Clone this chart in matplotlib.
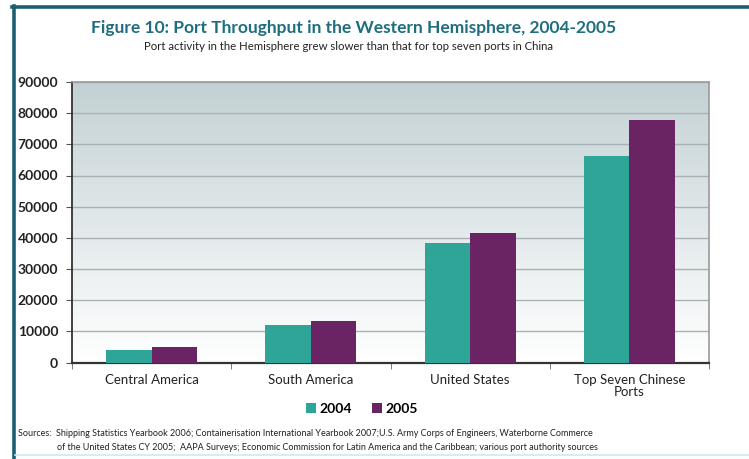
import numpy as np
import matplotlib
matplotlib.use("Agg")
import matplotlib.pyplot as plt
from matplotlib.lines import Line2D
from matplotlib.colors import LinearSegmentedColormap

categories = ["Central America", "South America", "United States", "Top Seven Chinese\nPorts"]
years = ["2004", "2005"]
values_2004 = [3900, 11900, 38400, 66100]
values_2005 = [4900, 13200, 41700, 77700]
yticks = [0, 10000, 20000, 30000, 40000, 50000, 60000, 70000, 80000, 90000]

teal = "#2ea597"
purple = "#6a2463"
frame_blue = "#1d5f70"

font = ["Lato", "DejaVu Sans"]
plt.rcParams["font.family"] = font

fig = plt.figure(figsize=(7.49, 4.59), dpi=100)
fig.patch.set_facecolor("white")

# page frame: thick rule across the top and down the left side, faint rule at the bottom
fig.add_artist(Line2D([12 / 749, 1.0], [1 - 7 / 459, 1 - 7 / 459], color=frame_blue, lw=2.6,
                      transform=fig.transFigure))
fig.add_artist(Line2D([13.5 / 749, 13.5 / 749], [0, 1 - 6 / 459], color=frame_blue, lw=2.6,
                      transform=fig.transFigure))
fig.add_artist(Line2D([15 / 749, 1.0], [1 - 455 / 459, 1 - 455 / 459], color="#c8ecf0", lw=1.2,
                      transform=fig.transFigure))

ax = fig.add_axes([72 / 749, 1 - 362.5 / 459, (709 - 72) / 749, (362.5 - 82) / 459])

# vertical gradient background inside the plot area
grad = np.linspace(0, 1, 256).reshape(-1, 1)
cmap = LinearSegmentedColormap.from_list("bg", ["#ffffff", "#c3d1d4"])
ax.imshow(grad, aspect="auto", cmap=cmap, origin="lower",
          extent=[-0.5, 3.5, 0, 90000], zorder=0)

x = np.arange(len(categories))
w = 0.285
ax.bar(x - w / 2, values_2004, w, color=teal, zorder=3, label=years[0])
ax.bar(x + w / 2, values_2005, w, color=purple, zorder=3, label=years[1])

ax.set_xlim(-0.5, 3.5)
ax.set_ylim(0, 90000)
ax.set_yticks(yticks)
ax.set_yticklabels([str(v) for v in yticks], fontsize=10, fontweight="bold", color="#222222")
ax.yaxis.grid(True, color="#a8b2b4", lw=1.0, zorder=1)
ax.set_axisbelow(True)

ax.set_xticks(x)
ax.set_xticklabels(categories, fontsize=9.5, color="#222222", linespacing=1.05)
ax.set_xticks(np.arange(-0.5, 4.0, 1.0), minor=True)
ax.tick_params(axis="x", which="major", length=0, pad=8)
ax.tick_params(axis="x", which="minor", length=4, color="#666666")
ax.tick_params(axis="y", length=4, color="#555555", pad=6)

for side in ("top", "right"):
    ax.spines[side].set_color("#9a9a9a")
    ax.spines[side].set_linewidth(1.2)
ax.spines["left"].set_color("#333333")
ax.spines["bottom"].set_color("#333333")
ax.spines["left"].set_linewidth(1.3)
ax.spines["bottom"].set_linewidth(1.6)

leg = fig.legend(loc="center", bbox_to_anchor=(362 / 749, 1 - 409 / 459), ncol=2,
                 frameon=False, handlelength=0.7, handleheight=0.7, handletextpad=0.3,
                 columnspacing=1.4, prop={"family": font, "weight": "bold", "size": 10})

fig.text(354 / 749, 1 - 28 / 459,
         "Figure 10: Port Throughput in the Western Hemisphere, 2004-2005",
         ha="center", va="center", fontsize=12.5, fontweight="bold", color="#1f6e80")
fig.text(348 / 749, 1 - 46 / 459,
         "Port activity in the Hemisphere grew slower than that for top seven ports in China",
         ha="center", va="center", fontsize=8.2, color="#222222")

fig.text(18 / 749, 1 - 433 / 459,
         "Sources:  Shipping Statistics Yearbook 2006; Containerisation International Yearbook 2007;"
         "U.S. Army Corps of Engineers, Waterborne Commerce",
         ha="left", va="center", fontsize=6.5, color="#222222")
fig.text(57 / 749, 1 - 447 / 459,
         "of the United States CY 2005;  AAPA Surveys; Economic Commission for Latin America and the "
         "Caribbean; various port authority sources",
         ha="left", va="center", fontsize=6.5, color="#222222")

fig.savefig("out.png", dpi=100)
